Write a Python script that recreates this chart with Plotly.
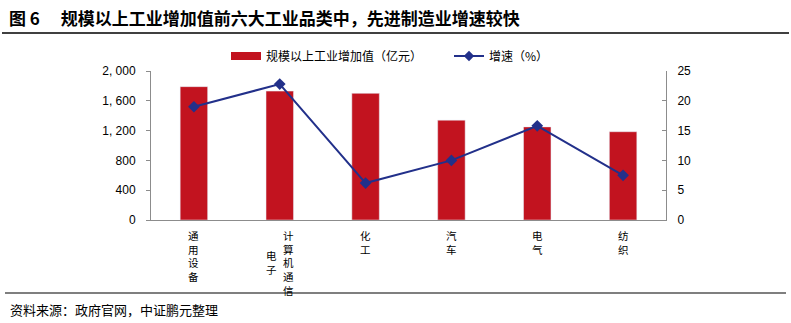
import plotly.graph_objects as go

categories = ["通用设备", "计算机通信电子", "化工", "汽车", "电气", "纺织"]
value_added = [1790, 1730, 1700, 1340, 1250, 1185]   # 亿元
growth = [19.0, 22.8, 6.2, 10.0, 15.8, 7.5]           # %
left_ticks = [0, 400, 800, 1200, 1600, 2000]
left_ticktext = ["0", "400", "800", "1, 200", "1, 600", "2, 000"]
right_ticks = [0, 5, 10, 15, 20, 25]

BAR_RED = "#C2131F"
LINE_BLUE = "#22308A"
AXIS_GREY = "#8C8C8C"
CJK = "Noto Sans CJK SC"
NUM = "Liberation Sans, Arial"

W, H = 791, 323
L, R, T, B = 151, 125, 71, 103
PW, PH = W - L - R, H - T - B

def px_x(px):
    return (px - L) / PW

def px_y(py):
    return (H - B - py) / PH

fig = go.Figure()
fig.add_trace(go.Bar(x=categories, y=value_added, marker_color=BAR_RED,
                     width=0.32, showlegend=False, yaxis="y"))
fig.add_trace(go.Scatter(x=categories, y=growth, mode="lines+markers",
                         line=dict(color=LINE_BLUE, width=2),
                         marker=dict(symbol="diamond", size=9, color=LINE_BLUE),
                         showlegend=False, yaxis="y2"))
# legend entries
fig.add_trace(go.Scatter(x=[None], y=[None], mode="lines",
                         line=dict(color=BAR_RED, width=8),
                         name="规模以上工业增加值（亿元）"))
fig.add_trace(go.Scatter(x=[None], y=[None], mode="lines+markers",
                         line=dict(color=LINE_BLUE, width=2),
                         marker=dict(symbol="diamond", size=8, color=LINE_BLUE),
                         name="增速（%）"))

# category labels: vertical stacked characters, wrapped in columns of 5
LBL_SIZE = 10.5
pitch = LBL_SIZE * 1.3
annotations = []
for cat in categories:
    cols = [cat[i:i + 5] for i in range(0, len(cat), 5)]
    ncol = len(cols)
    maxlen = max(len(c) for c in cols)
    for j, col in enumerate(cols):
        xshift = ((ncol - 1) / 2 - j) * 16.5
        yoff = (maxlen - len(col)) / 2 * pitch
        annotations.append(dict(
            x=cat, y=0, xref="x", yref="y", text="<br>".join(col),
            showarrow=False, xanchor="center", yanchor="top",
            xshift=xshift, yshift=-(6 + yoff),
            font=dict(family=CJK, size=LBL_SIZE, color="#000000")))

annotations.append(dict(
    x=px_x(7), y=px_y(18), xref="paper", yref="paper", showarrow=False,
    xanchor="left", yanchor="middle",
    text="<b>图 6　 规模以上工业增加值前六大工业品类中，先进制造业增速较快</b>",
    font=dict(family=CJK, size=17, color="#000000")))
annotations.append(dict(
    x=px_x(8), y=px_y(309), xref="paper", yref="paper", showarrow=False,
    xanchor="left", yanchor="middle",
    text="资料来源：政府官网，中证鹏元整理",
    font=dict(family=CJK, size=13, color="#000000")))

shapes = [
    dict(type="line", xref="paper", yref="paper", x0=px_x(2), x1=px_x(789),
         y0=px_y(33), y1=px_y(33), line=dict(color="#000000", width=1.5)),
    dict(type="line", xref="paper", yref="paper", x0=px_x(5), x1=px_x(786),
         y0=px_y(293), y1=px_y(293), line=dict(color="#000000", width=1.2)),
]

fig.update_layout(
    width=W, height=H, margin=dict(l=L, r=R, t=T, b=B, pad=0),
    paper_bgcolor="white", plot_bgcolor="white",
    font=dict(family=NUM, size=12, color="#000000"),
    xaxis=dict(showline=True, linecolor=AXIS_GREY, linewidth=1,
               showticklabels=False, ticks="", showgrid=False, zeroline=False,
               range=[-0.5, len(categories) - 0.5]),
    yaxis=dict(range=[0, 2000], tickvals=left_ticks, ticktext=left_ticktext,
               showline=True, linecolor=AXIS_GREY, linewidth=1,
               ticks="outside", ticklen=4, tickcolor=AXIS_GREY,
               showgrid=False, zeroline=False, ticklabelstandoff=8,
               tickfont=dict(family=NUM, size=12, color="#000000")),
    yaxis2=dict(range=[0, 25], tickvals=right_ticks, overlaying="y", side="right",
                showline=True, linecolor=AXIS_GREY, linewidth=1,
                ticks="inside", ticklen=4, tickcolor=AXIS_GREY,
                showgrid=False, zeroline=False, ticklabelstandoff=8,
                tickfont=dict(family=NUM, size=12, color="#000000")),
    legend=dict(orientation="h", x=px_x(226), y=px_y(56), xanchor="left",
                yanchor="middle", bgcolor="rgba(0,0,0,0)",
                font=dict(family=CJK, size=12, color="#000000"),
                itemwidth=30, entrywidth=178, entrywidthmode="pixels",
                tracegroupgap=0),
    annotations=annotations, shapes=shapes,
)

fig.write_html("out.html")
